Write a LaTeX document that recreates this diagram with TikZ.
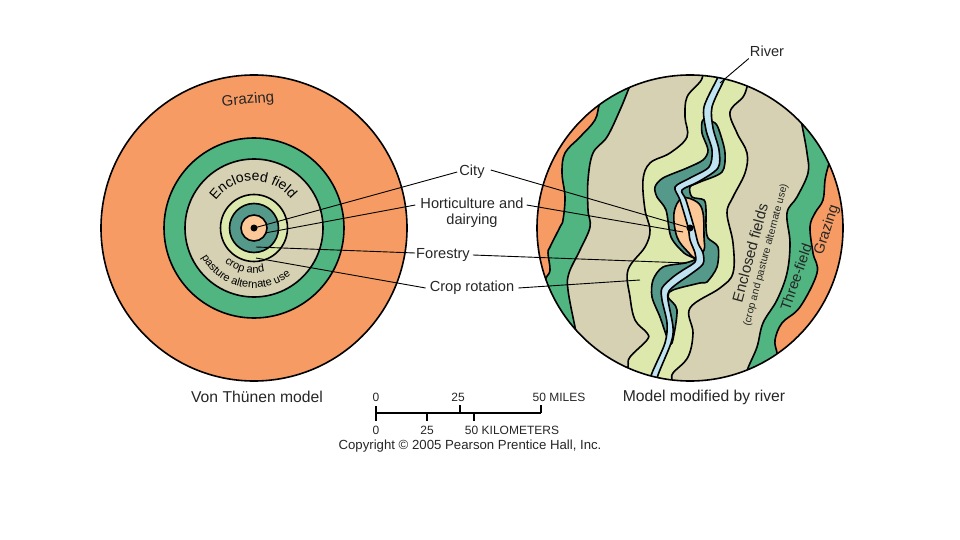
\documentclass[tikz,border=0pt]{standalone}
\usepackage{xcolor}
\usepackage{fontspec}
\usepackage{tikz}
\usetikzlibrary{decorations.text}
\setmainfont{Liberation Sans}
\definecolor{thunen_orange}{RGB}{247, 155, 100}
\definecolor{thunen_green}{RGB}{80, 181, 129}
\definecolor{thunen_beige}{RGB}{213, 209, 178}
\definecolor{thunen_lime}{RGB}{221, 232, 172}
\definecolor{thunen_teal}{RGB}{85, 153, 138}
\definecolor{thunen_peach}{RGB}{253, 200, 151}
\definecolor{thunen_river}{RGB}{191, 227, 240}
\tikzset{
  zone/.style={draw=black, line width=1.6pt, line join=round},
  leader/.style={draw=black, line width=0.9pt},
  scalebar/.style={draw=black, line width=1.3pt},
  label/.style={font=\fontsize{14.6}{16}\selectfont, inner sep=0pt, align=center, text=black!85},
  caption/.style={font=\fontsize{15.7}{18}\selectfont, inner sep=0pt, text=black!85},
  smalllabel/.style={font=\fontsize{12}{14}\selectfont, inner sep=0pt, text=black!85}
}
% band with everything to the right of the curve filled
\newcommand{\bandleft}[2]{\filldraw[zone, fill=#1] plot[smooth, tension=0.6] coordinates {#2} -- (530,395) -- (860,395) -- (860,50) -- (530,50) -- cycle;}
\newcommand{\bandright}[2]{\filldraw[zone, fill=#1] plot[smooth, tension=0.6] coordinates {#2} -- (860,395) -- (860,50) -- cycle;}
\begin{document}
\begin{tikzpicture}[x=1pt, y=-1pt]
    \useasboundingbox (0,0) rectangle (960,540);

    % Von Thunen rings
    \foreach \rad/\col in {153/thunen_orange, 90/thunen_green, 69/thunen_beige, 33.5/thunen_lime, 24.5/thunen_teal, 13/thunen_peach} {
      \filldraw[zone, fill=\col] (254,228) circle[radius=\rad];
    }
    \node[fill=black, circle, minimum size=7pt, inner sep=0pt] (cityleft) at (254,228) {};

    % Ring labels
    \node[label, font=\fontsize{15}{16}\selectfont, rotate=5] (grazingleft) at (248,100) {Grazing};
    \path[decorate, decoration={text along path, text align=center, text={|\fontsize{14}{14}\selectfont|Enclosed field}}]
      ({254+47*cos(148)},{228-47*sin(148)}) arc[start angle=148, end angle=34, radius=47pt];
    \path[decorate, decoration={text along path, text align=center, text={|\fontsize{11}{11}\selectfont|crop and}}]
      ({254+45*cos(229)},{228-45*sin(229)}) arc[start angle=229, end angle=284, radius=45pt];
    \path[decorate, decoration={text along path, text align=center, text={|\fontsize{11}{11}\selectfont|pasture alternate use}}]
      ({254+60*cos(210)},{228-60*sin(210)}) arc[start angle=210, end angle=307, radius=60pt];

    % Modified model
    \begin{scope}
      \clip (690,228) circle[radius=153];
      \fill[thunen_orange] (690,228) circle[radius=153];
      \bandleft{thunen_green}{(610,90) (600,103) (595,120) (580,137) (565,153) (562,173) (565,197) (563,220) (560,227) (550,247) (548,253) (550,270) (546,278) (540,292)}
      \bandleft{thunen_beige}{(632,80) (629,88) (620,110) (607,137) (593,153) (588,180) (588,210) (590,227) (580,250) (569,273) (568,290) (575,327) (578,340)}
      \bandleft{thunen_lime}{(706,65) (703,75) (700,82) (687,97) (685,117) (687,137) (670,153) (650,163) (643,180) (645,210) (650,230) (645,247) (628,270) (630,297) (635,320) (647,333) (647,340) (630,357) (628,367) (625,390)}
      \bandright{thunen_beige}{(750,78) (747,87) (743,97) (730,112) (737,133) (747,153) (745,173) (733,197) (727,213) (733,243) (733,273) (720,288) (690,308) (693,333) (688,357) (673,373) (672,380) (670,390)}
      \bandright{thunen_green}{(800,115) (802,125) (807,153) (808,173) (797,197) (787,213) (790,243) (787,273) (777,300) (763,323) (757,347) (748,368) (745,380)}
      \bandright{thunen_orange}{(832,155) (828,167) (825,180) (823,200) (815,213) (810,227) (813,253) (817,273) (800,307) (782,323) (775,340) (777,353) (778,365)}

      % Water side zones
      \filldraw[zone, fill=thunen_teal] plot[smooth cycle, tension=0.5] coordinates {(703,120) (702,133) (708,150) (703,160) (687,168) (663,178) (655,187) (657,197) (666,210) (671,237) (684,253) (695,259) (685,263) (663,267) (653,280) (652,297) (660,317) (667,337) (672,343) (677,310) (668,297) (673,290) (700,283) (707,282) (717,267) (718,247) (708,238) (706,227) (706,210) (704,200) (692,197) (690,187) (700,182) (722,172) (725,153) (720,133) (715,123)};
      \filldraw[zone, fill=thunen_peach] plot[smooth cycle, tension=0.6] coordinates {(682,198) (674,213) (677,237) (688,252) (696,258) (704,250) (704,237) (703,213) (697,202)};
      \filldraw[zone, fill=thunen_river] plot[smooth, tension=0.5] coordinates {(720,70) (717,79) (704,107) (706,130) (712,150) (709,167) (690,178) (675,187) (680,200) (688,227) (690,240) (695,253) (695,262) (683,270) (673,277) (662,288) (662,300) (667,323) (665,343) (652,373) (647,390)}
        -- plot[smooth, tension=0.5] coordinates {(655,390) (658,375) (671,343) (673,327) (668,300) (669,291) (678,283) (691,274) (703,264) (703,253) (698,243) (694,227) (686,200) (682,190) (698,182) (718,168) (719,150) (713,128) (712,107) (724,80) (728,70)} -- cycle;
    \end{scope}
    \draw[zone] (690,228) circle[radius=153];
    \node[fill=black, circle, minimum size=7pt, inner sep=0pt] (cityright) at (690,228) {};

    % Zone labels on the river model
    \node[label, font=\fontsize{15}{16}\selectfont, rotate=75] (enclosed) at (750,253) {Enclosed fields};
    \node[smalllabel, font=\fontsize{10.3}{12}\selectfont, rotate=75] (alternate) at (766,255) {(crop and pasture alternate use)};
    \node[label, rotate=71] (threefield) at (796,277) {Three-field};
    \node[label, rotate=72] (grazingright) at (827,230) {Grazing};

    % Centre labels
    \node[label] (city) at (472,172) {City};
    \node[label] (horticulture) at (472,213) {Horticulture and\\dairying};
    \node[label] (forestry) at (443,255) {Forestry};
    \node[label] (croprotation) at (472,288) {Crop rotation};
    \node[label] (river) at (767,51) {River};

    % Free ends of the leaders
    \coordinate (hortleft) at (265,233);
    \coordinate (hortright) at (683,232);
    \coordinate (forleft) at (256,247);
    \coordinate (forright) at (687,263);
    \coordinate (cropleft) at (256,258);
    \coordinate (cropright) at (640,280);
    \coordinate (riverend) at (720,83);

    % Leaders
    \draw[leader] (city.west) ++(-2,0) -- (cityleft.center);
    \draw[leader] (city.east) ++(6,-2) -- (cityright.center);
    \draw[leader] (horticulture.west) ++(-5,-8) -- (hortleft);
    \draw[leader] (horticulture.east) ++(3,-8) -- (hortright);
    \draw[leader] (forestry.west) ++(-1,-2) -- (forleft);
    \draw[leader] (forestry.east) ++(3,0) -- (forright);
    \draw[leader] (croprotation.west) ++(-4,0) -- (cropleft);
    \draw[leader] (croprotation.east) ++(4,0) -- (cropright);
    \draw[leader] (river.south west) ++(-1,2) -- (riverend);

    % Captions
    \node[caption] (vonthunen) at (257,397) {Von Thünen model};
    \node[caption] (modified) at (704,397) {Model modified by river};

    % Scale
    \draw[scalebar] (376,413) -- (541,413);
    \draw[scalebar] (376,406) -- (376,421);
    \foreach \pos in {460,541} {
      \draw[scalebar] (\pos,405) -- (\pos,413);
    }
    \foreach \pos in {427,474} {
      \draw[scalebar] (\pos,413) -- (\pos,421);
    }
    \node[smalllabel] (milezero) at (376,397) {0};
    \node[smalllabel] (miletwentyfive) at (458,397) {25};
    \node[smalllabel] (miles) at (559,397) {50 MILES};
    \node[smalllabel] (kmzero) at (376,430) {0};
    \node[smalllabel] (kmtwentyfive) at (427,430) {25};
    \node[smalllabel] (kilometers) at (512,430) {50 KILOMETERS};
    \node[smalllabel, font=\fontsize{13.2}{15}\selectfont] (copyright) at (470,446) {Copyright © 2005 Pearson Prentice Hall, Inc.};

  \end{tikzpicture}
\end{document}
